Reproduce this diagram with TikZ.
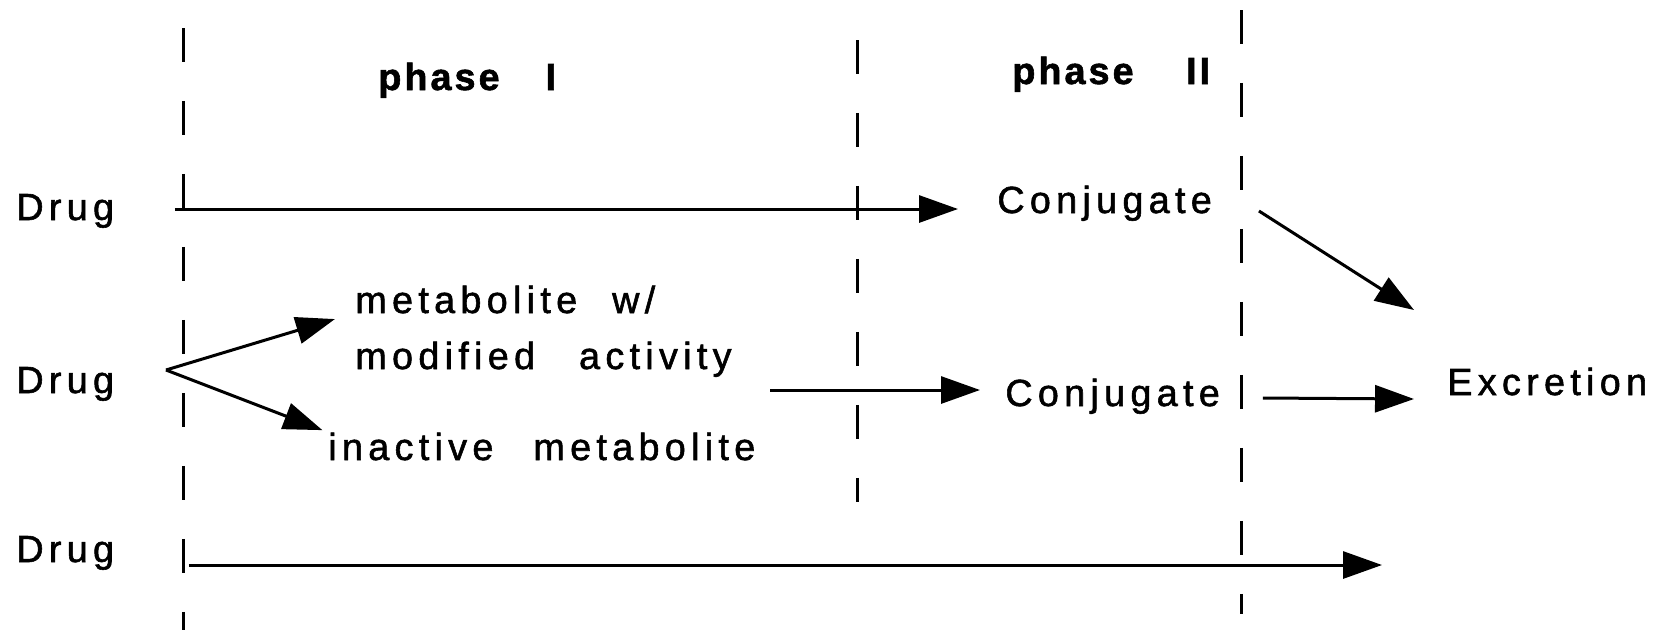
\documentclass[tikz,border=0pt]{standalone}
\usepackage{fontspec}
\setmainfont{Liberation Sans}[LetterSpace=14, FakeBold=1.5]
\usetikzlibrary{arrows.meta}

\begin{document}
\begin{tikzpicture}[x=0.02cm, y=-0.02cm,
		txt/.style={inner sep=0, anchor=base west, font=\fontsize{21.5}{30}\selectfont},
		hd/.style={txt, font=\fontsize{21.5}{30}\selectfont\bfseries\addfontfeature{LetterSpace=8}},
		arr/.style={-{Triangle[length=0.78cm, width=0.54cm]}, line width=0.06cm},
		sep/.style={line width=0.06cm, dash pattern=on 0.68cm off 0.78cm}]
				\begin{scope}
					\useasboundingbox (0,0) rectangle (1669,630);

					\draw[sep] (183,28) -- (183,630); % inizio fase I
					\draw[sep] (857,40) -- (857,502); % inizio fase II
					\draw[sep] (1241,10) -- (1241,614); % fine fase II

					\node[hd] (phI) at (378,90) {phase\hspace{0.92cm}I};
					\node[hd] (phII) at (1012,84) {phase\hspace{1.05cm}II};

					\node[txt] (drugA) at (16,220) {Drug};
					\node[txt] (drugB) at (16,393) {Drug};
					\node[txt] (drugC) at (16,562) {Drug};
					\node[txt] (metabA) at (355,313) {metabolite\hspace{0.7cm}w/};
					\node[txt] (metabB) at (355,369) {modified\hspace{0.88cm}activity};
					\node[txt] (inact) at (328,460) {inactive\hspace{0.8cm}metabolite};
					\node[txt] (conjA) at (997,213) {Conjugate};
					\node[txt] (conjB) at (1005,406) {Conjugate};
					\node[txt] (excr) at (1447,395) {Excretion};

					\coordinate (fork) at (166,370);
					\coordinate (merge) at (770,390);

					\draw[arr, shorten <=3.18cm, shorten >=0.78cm] ([yshift=0.22cm]drugA.base west) -- ([yshift=0.22cm]drugA.base west -| conjA.west); % da 1 a conjugate
					\draw[arr, shorten >=0.42cm] (fork) -- (metabA.base west); % da 2 a metabolite
					\draw[arr, shorten >=0.12cm] (fork) -- (inact.north west); % da 2 a inactive
					\draw[arr, shorten >=0.5cm] (merge) -- (merge -| conjB.west); % da metabolite a conjugate
					\draw[arr] ([xshift=5.24cm, yshift=0.04cm]conjA.base west) -- ([xshift=-0.66cm, yshift=1.7cm]excr.base west); % conjugate a excretion
					\draw[arr] ([xshift=5.16cm, yshift=0.16cm]conjB.base west) -- ([xshift=-0.66cm, yshift=-0.08cm]excr.base west); % conjugate a excretion
					\draw[arr, shorten <=3.46cm, shorten >=1.3cm] ([yshift=-0.06cm]drugC.base west) -- ([yshift=-0.06cm]drugC.base west -| excr.west); % da 3 a excretion
				\end{scope}
			\end{tikzpicture}
\end{document}
